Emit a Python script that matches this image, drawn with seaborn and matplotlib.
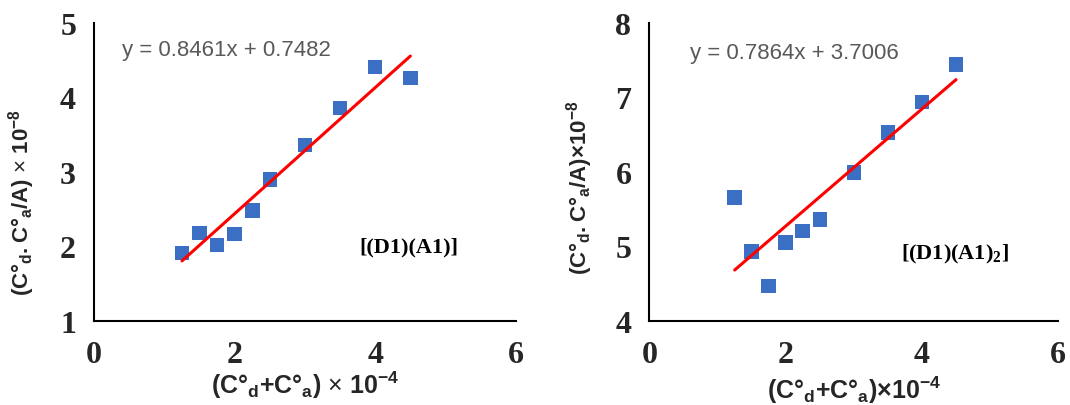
import matplotlib
matplotlib.use('Agg')
import matplotlib.pyplot as plt
import numpy as np
import pandas as pd
import seaborn as sns

# data
conc_sum = [1.25, 1.5, 1.75, 2.0, 2.25, 2.5, 3.0, 3.5, 4.0, 4.5]
y_d1a1 = [1.91, 2.18, 2.02, 2.17, 2.48, 2.90, 3.36, 3.86, 4.41, 4.26]
y_d1a12 = [5.66, 4.93, 4.47, 5.05, 5.21, 5.36, 5.99, 6.53, 6.94, 7.44]

slopes = [0.8461, 0.7864]
intercepts = [0.7482, 3.7006]
complex_labels = ['[(D1)(A1)]', r'[(D1)(A1)$_{\mathregular{2}}$]']
y_limits = [(1, 5), (4, 8)]
y_labels = [r'$\mathbf{(C°_d{.}C°_a/A)}$ × $\mathbf{10^{-8}}$',
            r'$\mathbf{(C°_d{.}C°_a/A)×10^{-8}}$']
x_labels = [r'$\mathbf{(C°_d{+}C°_a)}$ × $\mathbf{10^{-4}}$',
            r'$\mathbf{(C°_d{+}C°_a)×10^{-4}}$']

sns.set_style('white')
plt.rcParams['mathtext.fontset'] = 'custom'
plt.rcParams['mathtext.rm'] = 'Liberation Sans'
plt.rcParams['mathtext.bf'] = 'Liberation Sans:bold'
plt.rcParams['font.family'] = 'Liberation Sans'

fig = plt.figure(figsize=(10.7, 4.06), dpi=100)
ax1 = fig.add_axes([0.088, 0.207, 0.394, 0.734])
ax2 = fig.add_axes([0.607, 0.207, 0.382, 0.734])

panels = [(ax1, y_d1a1), (ax2, y_d1a12)]
eq_pos = [(0.4, 4.65), (0.6, 7.6)]
lab_pos = [(3.78, 2.0), (3.69, 4.9)]
ylab_coords = [(-0.135, 0.40), (-0.134, 0.45)]
xlab_coords = [(0.5, -0.16), (0.5, -0.175)]

for i, (ax, yv) in enumerate(panels):
    df = pd.DataFrame({'x': conc_sum, 'y': yv})
    xs = np.array([min(conc_sum), max(conc_sum)])
    fit = pd.DataFrame({'x': xs, 'y': slopes[i] * xs + intercepts[i]})
    sns.lineplot(data=fit, x='x', y='y', ax=ax, color='#ff0000', linewidth=2.2, zorder=3)
    sns.scatterplot(data=df, x='x', y='y', ax=ax, marker='s', s=110,
                    color='#3a6fc4', edgecolor='none', zorder=2)

    ax.set_xlim(0, 6)
    ax.set_ylim(*y_limits[i])
    ax.set_xticks([0, 2, 4, 6])
    ax.set_yticks(np.arange(y_limits[i][0], y_limits[i][1] + 1))
    ax.tick_params(direction='in', length=8, width=1.3, color='black')
    for lbl in ax.get_xticklabels() + ax.get_yticklabels():
        lbl.set_fontfamily('Liberation Serif')
        lbl.set_fontweight('bold')
        lbl.set_fontsize(23)
    ax.tick_params(axis='x', pad=14)
    ax.tick_params(axis='y', pad=13)

    for side in ['top', 'right']:
        ax.spines[side].set_visible(False)
    for side in ['left', 'bottom']:
        ax.spines[side].set_color('black')
        ax.spines[side].set_linewidth(1.5)

    ax.set_xlabel(x_labels[i], fontsize=18)
    ax.set_ylabel(y_labels[i], fontsize=16)
    ax.xaxis.set_label_coords(*xlab_coords[i])
    ax.yaxis.set_label_coords(*ylab_coords[i])

    eq = f'y = {slopes[i]:.4f}x + {intercepts[i]:.4f}'
    ax.text(*eq_pos[i], eq, fontsize=16, color='#595959',
            family='Liberation Sans', va='center', ha='left')
    ax.text(*lab_pos[i], complex_labels[i], fontsize=16, color='black',
            family='Liberation Serif', fontweight='bold', va='center', ha='left')

fig.savefig('out.png', dpi=100)
